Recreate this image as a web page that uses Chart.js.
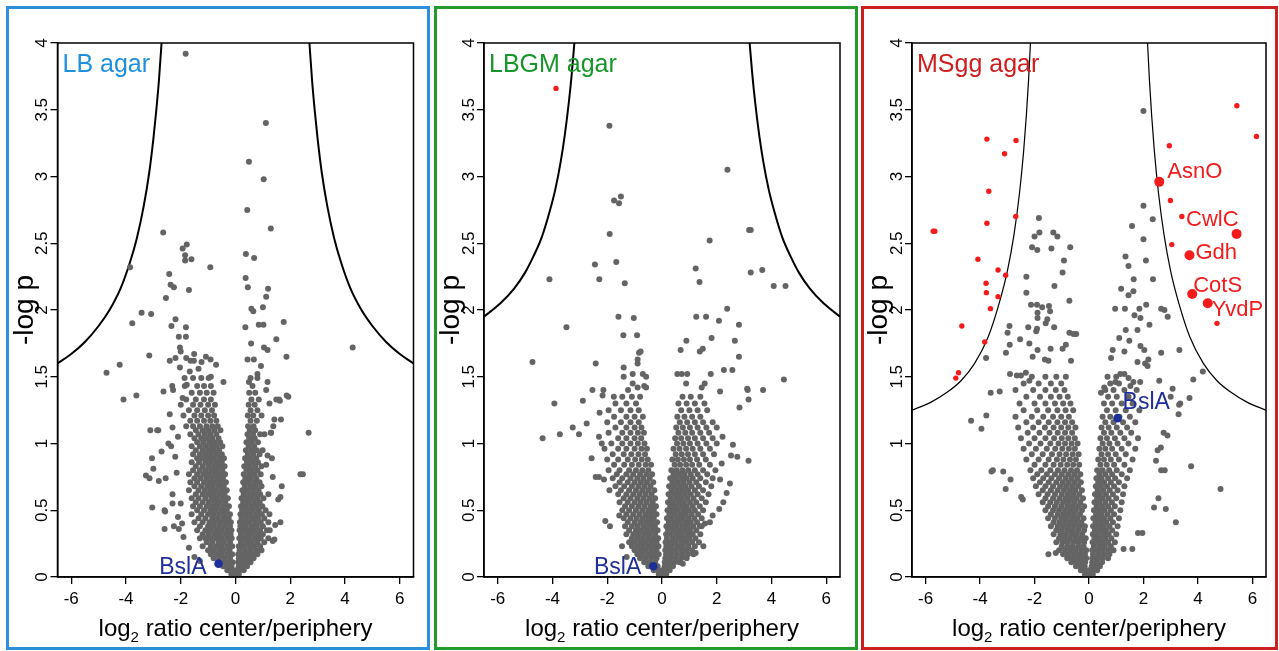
<!DOCTYPE html>
<html lang="en">
<head>
<meta charset="UTF-8">
<title>Volcano plots center/periphery</title>
<script src="https://cdn.jsdelivr.net/npm/chart.js"></script>
<style>
  body { margin: 0; background: #fff; width: 1279px; height: 651px; position: relative; overflow: hidden; }
  .panel { position: absolute; top: 6px; height: 644px; box-sizing: border-box; border: 3px solid; }
  .panel canvas { display: block; }
  #p1 { left: 6px; width: 424px; border-color: #2d8fd9; }
  #p2 { left: 434px; width: 424px; border-color: #24992c; }
  #p3 { left: 861px; width: 417px; border-color: #cf2020; }
</style>
</head>
<body>
<div class="panel" id="p1"><canvas id="c1" width="418" height="638"></canvas></div>
<div class="panel" id="p2"><canvas id="c2" width="418" height="638"></canvas></div>
<div class="panel" id="p3"><canvas id="c3" width="411" height="638"></canvas></div>

<script>
// axes
const xTicks = [-6, -4, -2, 0, 2, 4, 6];
const xTickLabels = ['-6', '-4', '-2', '0', '2', '4', '6'];
const yTicks = [0, 0.5, 1, 1.5, 2, 2.5, 3, 3.5, 4];
const yTickLabels = ['0', '0.5', '1', '1.5', '2', '2.5', '3', '3.5', '4'];
const panelNames = ['LB agar', 'LBGM agar', 'MSgg agar'];

// threshold curves, right branch [|log2 ratio|, -log p] (left branch is the mirror)
const lbCurve = [[2.7,4.0],[2.8,3.71],[2.9,3.48],[3.0,3.28],[3.15,3.03],[3.35,2.78],[3.6,2.54],[3.85,2.36],[4.2,2.16],[4.6,2.0],[5.0,1.88],[5.5,1.76],[6.0,1.67],[6.5,1.6]];
const lbgmCurve = [[3.2,4.0],[3.3,3.76],[3.4,3.56],[3.55,3.31],[3.7,3.11],[3.9,2.9],[4.1,2.74],[4.4,2.54],[4.7,2.4],[5.0,2.28],[5.4,2.16],[5.9,2.05],[6.5,1.95]];
const msggCurve = [[2.15,4.0],[2.22,3.72],[2.3,3.46],[2.4,3.19],[2.55,2.88],[2.75,2.57],[3.0,2.29],[3.3,2.05],[3.7,1.8],[4.2,1.6],[4.7,1.47],[5.2,1.385],[5.8,1.31],[6.5,1.25]];

// BslA
const lbBslA = [-0.62, 0.10];
const lbgmBslA = [-0.32, 0.08];
const msggBslA = [1.05, 1.19];

// LB agar: isolated proteins [x, y]
const lbSparse = [
[-1.82,3.92],[1.11,3.40],[0.49,3.11],[1.03,2.98],[0.43,2.75],[1.29,2.61],[-2.64,2.58],
[-1.78,2.49],[-1.93,2.46],[-1.84,2.41],[-1.84,2.37],[-1.61,2.38],[0.38,2.42],[0.68,2.39],
[-0.92,2.32],[-3.85,2.32],[-2.42,2.27],[-2.37,2.19],[-2.25,2.17],[-1.70,2.15],[0.37,2.24],
[0.45,2.17],[1.19,2.16],[1.12,2.10],[-2.54,2.09],[1.00,2.02],[0.58,2.01],[0.65,1.99],
[-3.43,1.98],[-3.08,1.97],[-3.77,1.90],[-2.34,1.88],[-2.19,1.93],[-1.81,1.87],[0.36,1.87],
[0.85,1.89],[1.02,1.89],[1.76,1.91],[1.49,1.78],[0.57,1.75],[1.04,1.72],[1.17,1.70],
[-2.03,1.72],[-2.00,1.69],[-2.07,1.80],[-1.81,1.80],[-3.15,1.66],[-1.51,1.67],[-2.40,1.62],
[-2.19,1.64],[-1.80,1.64],[-1.64,1.62],[-1.52,1.62],[-1.08,1.65],[-0.91,1.63],[-1.24,1.61],
[-1.35,1.56],[-0.71,1.59],[0.44,1.63],[0.67,1.63],[0.93,1.58],[1.86,1.65],[4.28,1.72],
[-4.71,1.53],[-4.23,1.59],[-2.03,1.57],[-1.67,1.54],[-1.86,1.49],[-1.78,1.44],[-2.31,1.43],
[-0.90,1.50],[-0.44,1.46],[0.49,1.46],[1.17,1.46],[0.80,1.52],[1.12,1.40],[1.49,1.33],[1.24,1.30],[1.59,1.33],
[-3.62,1.36],[-4.09,1.33],[-2.63,1.39],[-2.28,1.40],[-1.93,1.34],[1.93,1.35],[1.62,1.32],[1.87,1.36],
[1.42,1.18],[1.66,1.18],[1.38,1.13],[1.29,1.08],[2.67,1.08],[2.46,0.77],[2.37,0.77],
[1.06,1.07],[1.30,1.08],[0.99,0.95],[1.17,0.91],[1.33,0.89],[1.12,0.84],[1.36,0.75],
[1.69,0.68],[1.64,0.60],[1.64,0.41],[1.42,0.28],[1.56,0.58],[1.45,0.39],[1.36,0.27],[1.24,0.47],[1.20,0.62],[1.25,0.35],
[-3.11,1.10],[-2.82,1.10],[-3.05,0.89],[-3.27,0.76],[-3.00,0.81],
[-3.14,0.74],[-2.80,0.72],[-2.55,0.74],[-2.70,0.94],[-3.04,0.52],[-2.59,0.36],[-2.59,0.50],
[-2.25,0.38],[-2.07,0.36],[-1.95,0.40],[-2.86,1.10],[-2.57,0.49],
[-2.40,1.22],[-2.30,1.12],[-2.45,1.00],[-2.35,0.98],[-2.20,0.90],[-2.10,1.05],[-2.15,0.78],[-2.30,0.62],
[-2.00,0.55],[-2.10,0.45],[-2.30,0.55],[-1.90,0.30],[-1.70,0.22],[-1.50,0.15],[-1.30,0.12]
];
// LB agar: dense part, one row per -log p level: [y, x, x, ...]
const lbCloud = [
[0.02,-0.15,0,0.12],
[0.05,-0.3,-0.15,0,0.15,0.3],
[0.08,-0.45,-0.3,-0.15,0.12,0.27,0.42],
[0.11,-0.6,-0.42,-0.25,-0.1,0.1,0.25,0.4,0.55],
[0.14,-0.8,-0.6,-0.4,-0.2,0.12,0.3,0.48,0.66],
[0.17,-0.9,-0.7,-0.5,-0.3,-0.12,0.1,0.28,0.46,0.64,0.8],
[0.2,-1.0,-0.8,-0.6,-0.42,-0.22,0.15,0.35,0.55,0.75,0.95],
[0.23,-1.2,-0.9,-0.7,-0.5,-0.3,-0.12,0.12,0.3,0.5,0.7,0.9],
[0.26,-1.05,-0.85,-0.62,-0.42,-0.2,0.2,0.4,0.6,0.8,1.05],
[0.29,-1.3,-1.1,-0.9,-0.7,-0.5,-0.3,-0.14,0.14,0.32,0.52,0.72,0.92,1.2],
[0.32,-1.2,-0.98,-0.78,-0.58,-0.38,-0.18,0.2,0.4,0.6,0.8,1.0],
[0.35,-1.4,-1.1,-0.9,-0.7,-0.5,-0.3,-0.15,0.15,0.32,0.5,0.7,0.9,1.15],
[0.38,-1.3,-1.0,-0.8,-0.6,-0.4,-0.2,0.18,0.38,0.58,0.78,1.0],
[0.41,-1.5,-1.2,-0.95,-0.75,-0.55,-0.35,-0.17,0.16,0.34,0.52,0.72,0.92,1.2],
[0.44,-1.35,-1.1,-0.85,-0.65,-0.45,-0.25,0.22,0.42,0.62,0.82,1.05],
[0.47,-1.6,-1.25,-1.0,-0.8,-0.6,-0.4,-0.2,0.18,0.36,0.56,0.76,0.96],
[0.5,-1.4,-1.15,-0.92,-0.72,-0.52,-0.32,0.24,0.44,0.64,0.85,1.1],
[0.53,-1.55,-1.3,-1.05,-0.85,-0.65,-0.45,-0.24,0.2,0.38,0.58,0.78,0.98],
[0.56,-1.45,-1.2,-0.97,-0.77,-0.57,-0.37,0.28,0.48,0.68,0.88],
[0.59,-1.6,-1.35,-1.1,-0.88,-0.68,-0.48,-0.28,0.22,0.4,0.6,0.8,1.02],
[0.62,-1.45,-1.2,-1.0,-0.8,-0.6,-0.4,0.3,0.5,0.7,0.9],
[0.65,-1.7,-1.35,-1.12,-0.92,-0.72,-0.52,-0.32,0.25,0.44,0.64,0.84],
[0.68,-1.5,-1.25,-1.03,-0.83,-0.63,-0.43,0.34,0.54,0.74,0.95],
[0.71,-1.65,-1.4,-1.15,-0.95,-0.75,-0.55,-0.35,0.28,0.48,0.68,0.88],
[0.74,-1.5,-1.28,-1.06,-0.86,-0.66,-0.46,0.36,0.56,0.76],
[0.77,-1.7,-1.4,-1.18,-0.97,-0.77,-0.57,-0.38,0.3,0.5,0.7,0.92],
[0.8,-1.55,-1.3,-1.08,-0.88,-0.68,-0.48,0.4,0.6,0.8],
[0.83,-1.45,-1.2,-0.98,-0.78,-0.58,-0.4,0.32,0.52,0.72,0.95],
[0.86,-1.6,-1.33,-1.1,-0.9,-0.7,-0.5,0.42,0.62,0.82],
[0.89,-1.4,-1.2,-1.0,-0.8,-0.6,-0.42,0.35,0.55,0.75],
[0.92,-1.55,-1.3,-1.1,-0.9,-0.7,-0.5,0.45,0.65,0.88],
[0.95,-1.45,-1.2,-1.0,-0.8,-0.6,0.38,0.58,0.78],
[0.98,-1.6,-1.3,-1.08,-0.88,-0.68,-0.48,0.48,0.68],
[1.01,-1.4,-1.18,-0.96,-0.76,-0.56,0.4,0.6,0.82],
[1.04,-1.5,-1.25,-1.05,-0.85,-0.62,0.5,0.7],
[1.07,-1.65,-1.35,-1.12,-0.92,-0.7,0.44,0.64,0.9],
[1.1,-1.45,-1.2,-1.0,-0.78,-0.55,0.52,0.72],
[1.13,-1.8,-1.55,-1.3,-1.06,-0.85,-0.65,0.46,0.66],
[1.17,-1.65,-1.4,-1.15,-0.92,-0.7,0.55,0.78],
[1.21,-1.9,-1.5,-1.25,-1.0,-0.78,0.45,0.65,0.95],
[1.25,-1.7,-1.4,-1.12,-0.86,0.55,0.8],
[1.29,-2.0,-1.55,-1.28,-1.0,-0.75,0.48,0.7],
[1.33,-1.8,-1.45,-1.15,-0.9,0.58,0.85],
[1.38,-1.6,-1.3,-1.05,-0.8,0.5,0.72],
[1.43,-1.85,-1.4,-1.15,-0.9,0.62],
[1.49,-1.55,-1.25,-0.98,0.55,0.8]
];

// LBGM agar
const lbgmRed = [[-3.87,3.66]];
const lbgmSparse = [
[-1.92,3.38],[2.39,3.05],[-1.75,2.82],[-1.57,2.80],[-1.50,2.85],[-1.91,2.57],[3.18,2.60],[3.24,2.60],[1.74,2.52],
[-2.45,2.34],[-1.67,2.36],[-2.29,2.23],[-1.36,2.20],[-4.11,2.23],[1.23,2.31],[1.37,2.21],[3.24,2.28],[3.66,2.30],
[4.08,2.18],[4.51,2.18],[2.38,2.01],[-1.59,1.95],[-1.03,1.94],[1.25,1.95],[1.61,1.95],[2.08,1.92],[2.81,1.89],
[-3.49,1.87],[-1.41,1.81],[-0.91,1.81],[1.81,1.79],[0.89,1.77],[2.66,1.77],[0.68,1.70],[1.38,1.69],[1.49,1.71],
[2.81,1.65],[-0.84,1.68],[-0.78,1.69],[-0.89,1.63],[-0.89,1.60],[-4.73,1.61],[-2.42,1.60],[-1.40,1.57],[-1.40,1.50],
[-1.07,1.52],[-0.70,1.52],[-0.58,1.50],[0.56,1.52],[0.72,1.52],[0.92,1.52],[1.78,1.52],[2.26,1.55],[2.57,1.55],
[0.88,1.45],[-1.07,1.45],[-0.65,1.43],[1.56,1.45],[1.45,1.42],[4.45,1.48],
[-2.54,1.40],[-2.14,1.40],[-2.17,1.36],[-1.76,1.35],[-1.24,1.40],[-0.89,1.42],[-0.58,1.42],[3.69,1.40],[3.13,1.40],
[3.16,1.33],[2.83,1.27],[2.12,1.39],[-3.93,1.30],[-2.89,1.32],[-2.75,1.15],[-3.26,1.12],[-3.03,1.07],[-3.73,1.07],
[-4.36,1.04],[-2.57,0.89],[3.16,0.87],[2.75,0.90],[2.52,0.91],[2.59,0.99],[2.21,1.05],[3.11,1.41],
[-2.28,1.23],[-2.30,1.05],[-2.20,1.00],[-2.42,0.75],[-2.30,0.75],[-2.12,0.73],[-1.92,0.65],
[-2.07,0.42],[-1.90,0.38],[-1.56,0.46],[-1.46,0.23],[-1.29,0.15],
[2.18,0.85],[2.12,0.73],[2.48,0.70],[2.36,0.63],[2.24,0.56],[2.09,0.51],[1.85,0.46],[1.75,0.41],[1.57,0.40],
[1.45,0.38],[1.23,0.18],[1.51,0.23],[0.76,0.10]
];
const lbgmCloud = [
[0.02,-0.12,0.02,0.15],
[0.05,-0.3,-0.15,0,0.14,0.28],
[0.08,-0.5,-0.32,-0.16,0.1,0.25,0.4],
[0.11,-0.65,-0.45,-0.25,0.1,0.28,0.46,0.64],
[0.14,-0.8,-0.6,-0.4,-0.2,0.12,0.3,0.5,0.7,0.9],
[0.17,-0.9,-0.7,-0.5,-0.3,-0.12,0.15,0.35,0.55,0.75,0.95,1.15],
[0.2,-1.0,-0.8,-0.6,-0.4,-0.2,0.12,0.3,0.5,0.7,0.9,1.1],
[0.23,-1.1,-0.9,-0.7,-0.5,-0.3,-0.13,0.16,0.36,0.56,0.76,0.96,1.2],
[0.26,-1.2,-1.0,-0.8,-0.6,-0.4,-0.2,0.13,0.3,0.5,0.7,0.9,1.1,1.35],
[0.29,-1.1,-0.9,-0.7,-0.5,-0.3,-0.14,0.18,0.4,0.6,0.8,1.0,1.22],
[0.32,-1.3,-1.05,-0.85,-0.65,-0.45,-0.25,0.15,0.32,0.52,0.72,0.92,1.12,1.4],
[0.35,-1.2,-0.95,-0.75,-0.55,-0.35,-0.16,0.22,0.42,0.62,0.82,1.02,1.25],
[0.38,-1.35,-1.1,-0.88,-0.66,-0.46,-0.26,0.16,0.34,0.54,0.74,0.94,1.14,1.38],
[0.41,-1.25,-1.0,-0.78,-0.58,-0.38,-0.18,0.25,0.45,0.65,0.85,1.05,1.28],
[0.44,-1.4,-1.15,-0.92,-0.7,-0.5,-0.3,0.18,0.36,0.56,0.76,0.96,1.18,1.45],
[0.47,-1.3,-1.05,-0.82,-0.6,-0.4,-0.2,0.27,0.47,0.67,0.87,1.08,1.32],
[0.5,-1.45,-1.2,-0.95,-0.72,-0.5,-0.3,0.2,0.38,0.58,0.78,0.98,1.2,1.5],
[0.53,-1.35,-1.1,-0.86,-0.64,-0.42,-0.22,0.3,0.5,0.7,0.9,1.12,1.38],
[0.56,-1.55,-1.25,-1.0,-0.78,-0.56,-0.34,0.22,0.4,0.6,0.8,1.02,1.25,1.6],
[0.59,-1.4,-1.15,-0.9,-0.68,-0.46,-0.25,0.32,0.52,0.72,0.92,1.15,1.45],
[0.62,-1.6,-1.3,-1.05,-0.82,-0.6,-0.38,0.24,0.44,0.64,0.84,1.05,1.3,1.7],
[0.65,-1.5,-1.2,-0.95,-0.72,-0.5,-0.28,0.35,0.55,0.75,0.95,1.2,1.5],
[0.68,-1.7,-1.38,-1.1,-0.86,-0.64,-0.42,0.26,0.46,0.66,0.86,1.08,1.35,1.8],
[0.71,-1.55,-1.25,-1.0,-0.77,-0.55,-0.32,0.38,0.58,0.78,1.0,1.25,1.6],
[0.74,-1.8,-1.45,-1.15,-0.9,-0.68,-0.45,0.3,0.5,0.7,0.9,1.12,1.4,1.85],
[0.77,-1.65,-1.3,-1.05,-0.8,-0.57,-0.36,0.42,0.62,0.82,1.05,1.3,1.65],
[0.8,-1.95,-1.55,-1.2,-0.95,-0.72,-0.5,0.34,0.54,0.75,0.96,1.2,1.5,1.95],
[0.84,-1.75,-1.38,-1.1,-0.85,-0.6,-0.4,0.46,0.66,0.88,1.1,1.36,1.75],
[0.88,-2.0,-1.6,-1.25,-0.98,-0.74,-0.52,0.38,0.58,0.8,1.02,1.28,1.6],
[0.92,-1.8,-1.4,-1.12,-0.86,-0.62,0.5,0.72,0.95,1.2,1.5,1.9],
[0.96,-2.1,-1.6,-1.3,-1.0,-0.75,-0.55,0.42,0.64,0.88,1.12,1.4,1.75],
[1.0,-1.85,-1.45,-1.15,-0.88,-0.64,0.55,0.78,1.02,1.3,1.62,2.0],
[1.04,-1.6,-1.3,-1.0,-0.76,0.48,0.7,0.95,1.2,1.5,1.85],
[1.08,-1.95,-1.45,-1.15,-0.88,-0.66,0.6,0.85,1.1,1.4,1.72],
[1.12,-1.7,-1.3,-1.0,-0.75,0.52,0.76,1.02,1.3,1.62,2.0],
[1.16,-2.0,-1.5,-1.15,-0.85,0.65,0.92,1.2,1.5,1.85],
[1.2,-1.75,-1.3,-1.0,-0.7,0.56,0.82,1.1,1.4],
[1.25,-1.95,-1.5,-1.15,-0.85,0.7,1.0,1.3,1.65],
[1.3,-1.7,-1.3,-0.95,0.6,0.9,1.2,1.55],
[1.35,-1.45,-1.1,-0.8,0.75,1.05,1.4]
];

// MSgg agar
const msggNamed = ['AsnO', 'CwlC', 'Gdh', 'CotS', 'YvdP'];
const msggNamedPts = [[2.58,2.96],[5.42,2.57],[3.69,2.41],[3.79,2.12],[4.36,2.05]];
const msggRed = [
[-5.72,2.59],[-5.66,2.59],[-3.75,3.28],[-2.68,3.27],[-3.10,3.17],[-3.68,2.89],[-3.75,2.65],[-2.69,2.70],
[-4.08,2.38],[-3.34,2.30],[-3.06,2.26],[-3.78,2.20],[-3.77,2.13],[-3.34,2.10],[-3.62,2.01],[-4.67,1.88],
[-3.83,1.76],[-4.79,1.53],[-4.89,1.49],[5.43,3.53],[6.15,3.30],[2.95,3.23],[2.99,2.82],[3.41,2.70],
[3.04,2.49],[4.70,1.90]
];
const msggSparse = [
[2.0,3.49],[2.0,2.78],[1.58,2.63],[2.34,2.68],[2.0,2.53],[2.09,2.37],[1.34,2.40],[1.45,2.33],[1.64,2.23],
[2.35,2.23],[1.18,2.16],[1.45,2.11],[1.63,2.14],[0.96,2.01],[1.32,2.01],[1.85,2.01],[2.10,2.04],[2.65,2.01],
[2.77,2.00],[2.89,1.95],[1.67,1.96],[1.89,1.94],[2.22,1.89],[1.35,1.85],[1.78,1.85],[1.11,1.79],[1.48,1.77],
[0.87,1.70],[0.81,1.64],[1.30,1.69],[1.89,1.73],[2.03,1.70],[2.18,1.63],[2.65,1.68],[3.32,1.70],[1.78,1.61],
[2.06,1.60],[2.15,1.58],[4.18,1.54],[3.83,1.48],[2.58,1.47],[3.07,1.41],[3.69,1.34],[3.35,1.30],[3.29,1.22],
[3.75,0.83],[4.83,0.66],[3.19,0.41],[2.78,0.80],[2.65,0.80],[2.39,0.52],[2.55,0.59],[2.82,0.51],[1.96,0.33],
[1.80,0.33],[3.00,1.35],[3.31,1.29],[2.74,1.08],[2.88,1.06],[2.64,0.97],[2.52,0.95],[2.46,0.87],[1.27,0.21],
[1.59,0.21],[1.15,1.52],[1.30,1.52],[1.45,1.49],[1.52,1.43],[1.63,1.46],[1.88,1.46],[0.97,1.46],[0.56,1.42],
[0.44,1.38],
[-1.84,2.69],[-1.82,2.58],[-2.00,2.55],[-1.31,2.58],[-1.16,2.55],[-2.09,2.47],[-1.90,2.45],[-1.38,2.46],
[-0.69,2.47],[-0.92,2.37],[-0.97,2.28],[-2.30,2.25],[-1.27,2.18],[-2.30,2.13],[-0.72,2.07],[-2.13,2.04],
[-1.91,2.04],[-1.89,1.98],[-1.89,1.94],[-1.72,2.02],[-1.47,2.03],[-1.43,1.99],[-1.53,1.93],[-1.59,1.90],
[-1.91,1.86],[-2.23,1.87],[-2.92,1.88],[-2.99,1.83],[-2.53,1.78],[-2.91,1.74],[-3.05,1.68],[-2.19,1.75],
[-1.94,1.84],[-1.28,1.87],[-0.85,1.74],[-0.97,1.71],[-1.41,1.71],[-0.72,1.83],[-0.57,1.82],[-0.47,1.82],
[-1.89,1.70],[-1.62,1.63],[-1.49,1.62],[-2.07,1.65],[-2.90,1.52],[-2.65,1.51],[-2.50,1.51],[-2.32,1.53],
[-2.19,1.47],[-0.66,1.62],[-3.78,1.64],
[-4.33,1.17],[-3.95,1.11],[-3.77,1.21],[-3.61,1.38],[-3.28,1.39],[-3.58,0.79],[-3.53,0.80],[-3.15,0.79],
[-3.06,0.66],[-2.88,0.73],[-2.49,0.60],[-2.43,0.58],[-1.49,0.17],[-1.22,0.18]
];
const msggCloud = [
[0.02,-0.15,0,0.14],
[0.05,-0.3,-0.15,0,0.15,0.3],
[0.08,-0.48,-0.32,-0.16,0.1,0.25,0.4],
[0.11,-0.65,-0.48,-0.3,-0.14,0.12,0.3,0.48],
[0.14,-0.8,-0.62,-0.44,-0.26,-0.1,0.12,0.3,0.5,0.7],
[0.17,-0.95,-0.75,-0.55,-0.35,-0.15,0.15,0.35,0.55,0.75],
[0.2,-1.1,-0.88,-0.68,-0.48,-0.28,-0.1,0.12,0.3,0.5,0.7,0.9],
[0.23,-1.0,-0.8,-0.6,-0.4,-0.2,0.18,0.38,0.58,0.8],
[0.26,-1.2,-0.98,-0.78,-0.58,-0.38,-0.18,0.13,0.3,0.5,0.7,0.95],
[0.29,-1.1,-0.9,-0.7,-0.5,-0.3,-0.12,0.2,0.4,0.6,0.82],
[0.32,-1.3,-1.05,-0.85,-0.65,-0.45,-0.25,0.14,0.32,0.52,0.72,1.0],
[0.35,-1.2,-1.0,-0.8,-0.6,-0.4,-0.18,0.22,0.42,0.62,0.85],
[0.38,-1.4,-1.15,-0.95,-0.75,-0.55,-0.35,-0.15,0.15,0.34,0.54,0.75,1.05],
[0.41,-1.3,-1.08,-0.88,-0.68,-0.48,-0.28,0.24,0.44,0.64,0.88],
[0.44,-1.5,-1.25,-1.02,-0.82,-0.62,-0.42,-0.2,0.16,0.35,0.55,0.78,1.1],
[0.47,-1.4,-1.15,-0.95,-0.75,-0.55,-0.33,0.26,0.46,0.68,0.92],
[0.5,-1.6,-1.32,-1.1,-0.88,-0.68,-0.48,-0.26,0.18,0.37,0.57,0.8,1.15],
[0.53,-1.5,-1.25,-1.02,-0.8,-0.6,-0.4,-0.18,0.28,0.48,0.7,0.95],
[0.56,-1.7,-1.42,-1.18,-0.95,-0.74,-0.54,-0.32,0.2,0.38,0.6,0.84,1.2],
[0.59,-1.6,-1.32,-1.08,-0.86,-0.66,-0.45,-0.22,0.3,0.5,0.72,1.0],
[0.62,-1.85,-1.52,-1.25,-1.0,-0.78,-0.58,-0.36,0.22,0.4,0.62,0.88,1.25],
[0.65,-1.7,-1.4,-1.15,-0.92,-0.7,-0.5,-0.26,0.32,0.52,0.76,1.05],
[0.68,-1.95,-1.6,-1.32,-1.06,-0.84,-0.62,-0.4,0.25,0.44,0.66,0.92,1.3],
[0.71,-1.8,-1.48,-1.2,-0.96,-0.74,-0.52,-0.3,0.34,0.55,0.8,1.1],
[0.74,-2.05,-1.68,-1.38,-1.1,-0.86,-0.64,-0.42,0.27,0.46,0.7,0.96,1.4],
[0.77,-1.9,-1.55,-1.25,-1.0,-0.76,-0.54,-0.32,0.38,0.6,0.85,1.2],
[0.8,-2.15,-1.75,-1.42,-1.14,-0.9,-0.66,-0.44,0.3,0.5,0.74,1.02,1.5],
[0.84,-2.0,-1.6,-1.3,-1.04,-0.8,-0.58,-0.36,0.42,0.65,0.92,1.3],
[0.88,-2.3,-1.85,-1.48,-1.18,-0.94,-0.7,-0.48,0.34,0.55,0.8,1.1,1.6],
[0.92,-2.1,-1.7,-1.36,-1.08,-0.84,-0.6,-0.38,0.46,0.7,0.98,1.35],
[0.96,-2.4,-1.95,-1.55,-1.24,-0.98,-0.74,-0.52,0.38,0.6,0.85,1.2,1.7],
[1.0,-2.2,-1.78,-1.42,-1.12,-0.88,-0.64,-0.42,0.5,0.75,1.05,1.45],
[1.04,-2.5,-2.0,-1.6,-1.28,-1.0,-0.76,-0.52,0.42,0.66,0.95,1.3,1.8],
[1.08,-2.25,-1.82,-1.45,-1.15,-0.88,-0.62,0.55,0.82,1.15,1.55],
[1.12,-2.6,-2.05,-1.62,-1.3,-1.02,-0.76,-0.5,0.46,0.72,1.02,1.4],
[1.16,-2.3,-1.85,-1.48,-1.16,-0.88,-0.62,0.6,0.9,1.25,1.7],
[1.2,-2.7,-2.1,-1.68,-1.32,-1.02,-0.74,0.5,0.78,1.12,1.5],
[1.25,-2.4,-1.9,-1.5,-1.16,-0.86,-0.58,0.66,0.98,1.35,1.85],
[1.3,-2.55,-2.0,-1.6,-1.25,-0.95,-0.68,0.55,0.85,1.2,1.6],
[1.35,-2.3,-1.8,-1.4,-1.08,-0.78,0.7,1.02,1.45],
[1.4,-2.7,-2.05,-1.6,-1.22,-0.9,0.6,0.9,1.3,1.75],
[1.45,-2.4,-1.85,-1.4,-1.02,0.78,1.1],
[1.5,-2.1,-1.6,-1.2,-0.85,0.68,1.0]
];

Chart.defaults.font.family = '"Liberation Sans", Arial, Helvetica, sans-serif';

const GRAY = '#646464';
const RED = '#f31b1b';
const NAVY = '#1e2f98';

function toPts(list) { return list.map(p => ({ x: p[0], y: p[1] })); }

function volcano(canvasId, o) {
    const gray = toPts(o.sparse);
    o.cloud.forEach(row => {
        for (let i = 1; i < row.length; i++) gray.push({ x: row[i], y: row[0] });
    });
    const right = toPts(o.curve);
    const left = o.curve.map(p => ({ x: -p[0], y: p[1] })).reverse();

    const dot = (data, color, r) => ({
        data: data, showLine: false, clip: false,
        pointRadius: r, pointBackgroundColor: color, pointBorderWidth: 0, pointHoverRadius: r
    });
    const line = data => ({
        data: data, showLine: true, pointRadius: 0, borderColor: '#000',
        borderWidth: o.curveWidth, cubicInterpolationMode: 'monotone', fill: false
    });

    // first dataset is painted last (on top)
    const datasets = [
        dot([{ x: o.bsla[0], y: o.bsla[1] }], NAVY, 4.3),
        dot(toPts(o.namedPts || []), RED, 5),
        dot(toPts(o.red || []), RED, 2.7),
        dot(gray, GRAY, 3.0),
        line(left),
        line(right)
    ];

    const decor = {
        id: 'decor',
        afterDatasetsDraw(chart) {
            const ctx = chart.ctx, a = chart.chartArea;
            const xs = chart.scales.x, ys = chart.scales.y;
            const fam = Chart.defaults.font.family;
            ctx.save();
            ctx.strokeStyle = '#000';
            ctx.lineWidth = 1.5;
            ctx.strokeRect(a.left, a.top, a.right - a.left, a.bottom - a.top);

            // y tick labels, rotated
            ctx.fillStyle = '#000';
            ctx.font = '17px ' + fam;
            ctx.textAlign = 'center';
            ctx.textBaseline = 'middle';
            yTicks.forEach((v, i) => {
                ctx.save();
                ctx.translate(a.left - 15, ys.getPixelForValue(v));
                ctx.rotate(-Math.PI / 2);
                ctx.fillText(yTickLabels[i], 0, 0);
                ctx.restore();
            });

            // y title
            ctx.save();
            ctx.font = '28px ' + fam;
            ctx.textBaseline = 'alphabetic';
            ctx.translate(a.left - 25, (a.top + a.bottom) / 2);
            ctx.rotate(-Math.PI / 2);
            ctx.fillText('-log p', 0, 0);
            ctx.restore();

            // x title with subscript
            const big = '24px ' + fam, small = '15px ' + fam;
            ctx.textAlign = 'left';
            ctx.textBaseline = 'alphabetic';
            ctx.font = big;
            const w1 = ctx.measureText('log').width;
            const w3 = ctx.measureText(' ratio center/periphery').width;
            ctx.font = small;
            const w2 = ctx.measureText('2').width;
            let tx = (a.left + a.right) / 2 - (w1 + w2 + w3) / 2;
            const by = 627;
            ctx.font = big;
            ctx.fillText('log', tx, by);
            ctx.font = small;
            ctx.fillText('2', tx + w1, by + 6);
            ctx.font = big;
            ctx.fillText(' ratio center/periphery', tx + w1 + w2, by);

            // panel name
            ctx.font = '25px ' + fam;
            ctx.fillStyle = o.nameColor;
            ctx.fillText(o.name, a.left + 5, 63);

            // point labels
            ctx.textBaseline = 'middle';
            o.labels.forEach(l => {
                ctx.font = l.size + 'px ' + fam;
                ctx.fillStyle = l.color;
                ctx.textAlign = l.align;
                ctx.fillText(l.text, xs.getPixelForValue(l.pt[0]) + l.dx, ys.getPixelForValue(l.pt[1]) + l.dy);
            });
            ctx.restore();
        }
    };

    new Chart(document.getElementById(canvasId), {
        type: 'scatter',
        data: { datasets: datasets },
        options: {
            responsive: false,
            animation: false,
            events: [],
            layout: { padding: { top: 34, right: o.padRight, bottom: 0, left: 0 } },
            plugins: { legend: { display: false }, tooltip: { enabled: false } },
            scales: {
                x: {
                    type: 'linear', min: -6.5, max: 6.5,
                    afterBuildTicks: s => { s.ticks = xTicks.map(v => ({ value: v })); },
                    afterFit: s => { s.height = 70; },
                    ticks: {
                        callback: (v, i) => xTickLabels[i],
                        color: '#000', font: { size: 17 }, padding: 5,
                        maxRotation: 0, autoSkip: false
                    },
                    grid: { drawOnChartArea: false, drawTicks: true, tickLength: 7, color: '#000', lineWidth: 1.3 },
                    border: { display: true, color: '#000', width: 1.5 }
                },
                y: {
                    type: 'linear', min: 0, max: 4,
                    afterBuildTicks: s => { s.ticks = yTicks.map(v => ({ value: v })); },
                    afterFit: s => { s.width = o.leftWidth; },
                    ticks: { display: false },
                    grid: { drawOnChartArea: false, drawTicks: true, tickLength: 7, color: '#000', lineWidth: 1.3 },
                    border: { display: true, color: '#000', width: 1.5 }
                }
            }
        },
        plugins: [decor]
    });
}

volcano('c1', {
    name: panelNames[0], nameColor: '#1f8fe0',
    sparse: lbSparse, cloud: lbCloud, curve: lbCurve, bsla: lbBslA,
    curveWidth: 2, leftWidth: 48.5, padRight: 13.5,
    labels: [{ text: 'BslA', pt: lbBslA, dx: -12, dy: 4, align: 'right', color: NAVY, size: 23 }]
});

volcano('c2', {
    name: panelNames[1], nameColor: '#17962a',
    sparse: lbgmSparse, cloud: lbgmCloud, curve: lbgmCurve, bsla: lbgmBslA, red: lbgmRed,
    curveWidth: 2, leftWidth: 47, padRight: 15,
    labels: [{ text: 'BslA', pt: lbgmBslA, dx: -12, dy: 1, align: 'right', color: NAVY, size: 23 }]
});

const msggOffsets = { AsnO: [8, -10, 'left'], CwlC: [2, -14, 'right'], Gdh: [6, -2, 'left'], CotS: [1, -8, 'left'], YvdP: [4, 7, 'left'] };
volcano('c3', {
    name: panelNames[2], nameColor: '#d01d1d',
    sparse: msggSparse, cloud: msggCloud, curve: msggCurve, bsla: msggBslA, red: msggRed, namedPts: msggNamedPts,
    curveWidth: 1.2, leftWidth: 48, padRight: 9,
    labels: msggNamed.map((n, i) => ({
        text: n, pt: msggNamedPts[i], dx: msggOffsets[n][0], dy: msggOffsets[n][1],
        align: msggOffsets[n][2], color: RED, size: 22
    })).concat([{ text: 'BslA', pt: msggBslA, dx: 5, dy: -15, align: 'left', color: NAVY, size: 23 }])
});
</script>
</body>
</html>
